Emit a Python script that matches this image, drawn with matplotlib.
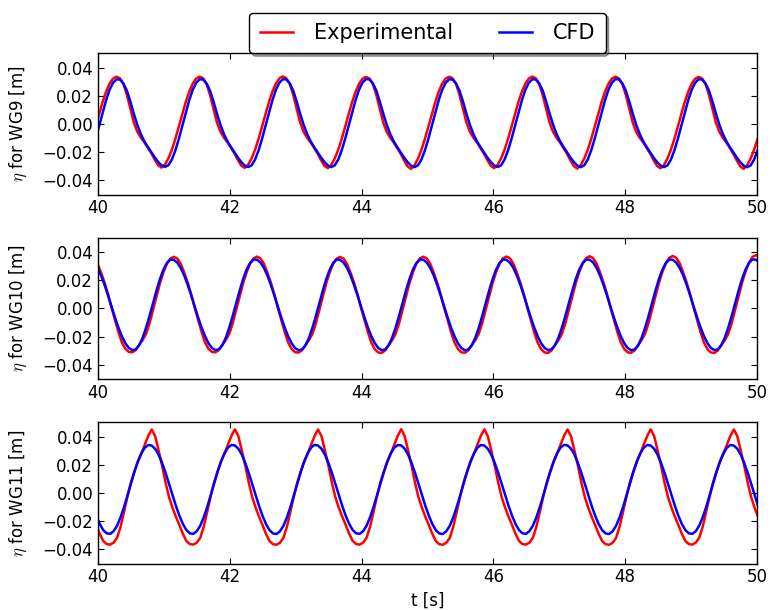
import numpy as np
import matplotlib
matplotlib.use("Agg")
import matplotlib.pyplot as plt

# digitised wave-gauge traces, one sample every dt seconds from t_start
# (one text line = one wave, starting at the red crest)
dt = 0.0525833
t9_start = 39.9645
t10_start = 39.9932
t11_start = 39.9737

# WG9
eta9_exp = [
    -0.0019, 0.0070, 0.0156, 0.0229, 0.0286, 0.0322,
    0.0335, 0.0324, 0.0284, 0.0207, 0.0110, 0.0012, -0.0054, -0.0096, -0.0128, -0.0166, -0.0205, -0.0251, -0.0292, -0.0309, -0.0288, -0.0243, -0.0182, -0.0105, -0.0019, 0.0070, 0.0156, 0.0229, 0.0286, 0.0322,
    0.0336, 0.0325, 0.0284, 0.0206, 0.0108, 0.0010, -0.0055, -0.0097, -0.0129, -0.0167, -0.0207, -0.0253, -0.0294, -0.0311, -0.0289, -0.0244, -0.0183, -0.0106, -0.0020, 0.0069, 0.0155, 0.0229, 0.0286, 0.0323,
    0.0337, 0.0325, 0.0285, 0.0207, 0.0109, 0.0011, -0.0055, -0.0097, -0.0130, -0.0168, -0.0208, -0.0255, -0.0296, -0.0313, -0.0290, -0.0244, -0.0183, -0.0106, -0.0020, 0.0069, 0.0155, 0.0228, 0.0285, 0.0321,
    0.0334, 0.0323, 0.0283, 0.0205, 0.0107, 0.0009, -0.0056, -0.0098, -0.0131, -0.0170, -0.0211, -0.0258, -0.0300, -0.0318, -0.0293, -0.0246, -0.0184, -0.0107, -0.0021, 0.0068, 0.0155, 0.0229, 0.0286, 0.0322,
    0.0335, 0.0324, 0.0284, 0.0206, 0.0109, 0.0011, -0.0055, -0.0097, -0.0129, -0.0168, -0.0208, -0.0254, -0.0296, -0.0313, -0.0290, -0.0244, -0.0183, -0.0106, -0.0020, 0.0069, 0.0156, 0.0229, 0.0286, 0.0322,
    0.0336, 0.0324, 0.0283, 0.0205, 0.0107, 0.0009, -0.0056, -0.0098, -0.0131, -0.0170, -0.0210, -0.0257, -0.0299, -0.0316, -0.0292, -0.0245, -0.0184, -0.0107, -0.0021, 0.0068, 0.0155, 0.0229, 0.0286, 0.0322,
    0.0335, 0.0324, 0.0283, 0.0205, 0.0108, 0.0010, -0.0056, -0.0098, -0.0130, -0.0169, -0.0209, -0.0256, -0.0297, -0.0314, -0.0291, -0.0245, -0.0183, -0.0106, -0.0020, 0.0069, 0.0155, 0.0229, 0.0285, 0.0321,
    0.0334, 0.0323, 0.0283, 0.0205, 0.0107, 0.0009, -0.0056, -0.0098, -0.0131, -0.0170, -0.0211, -0.0258, -0.0300, -0.0318, -0.0293, -0.0246, -0.0184, -0.0107,
]
eta9_cfd = [
    -0.0105, -0.0013, 0.0082, 0.0169, 0.0242, 0.0292,
    0.0316, 0.0315, 0.0287, 0.0237, 0.0160, 0.0074, -0.0005, -0.0070, -0.0121, -0.0161, -0.0198, -0.0235, -0.0268, -0.0293, -0.0304, -0.0292, -0.0251, -0.0187, -0.0105, -0.0013, 0.0082, 0.0169, 0.0242, 0.0292,
    0.0317, 0.0315, 0.0287, 0.0236, 0.0159, 0.0073, -0.0006, -0.0071, -0.0122, -0.0162, -0.0199, -0.0236, -0.0269, -0.0294, -0.0305, -0.0293, -0.0252, -0.0188, -0.0106, -0.0014, 0.0081, 0.0168, 0.0242, 0.0292,
    0.0317, 0.0316, 0.0288, 0.0237, 0.0160, 0.0074, -0.0005, -0.0070, -0.0121, -0.0162, -0.0199, -0.0236, -0.0269, -0.0294, -0.0305, -0.0293, -0.0252, -0.0187, -0.0105, -0.0013, 0.0082, 0.0169, 0.0243, 0.0293,
    0.0318, 0.0316, 0.0288, 0.0236, 0.0159, 0.0073, -0.0006, -0.0071, -0.0122, -0.0163, -0.0200, -0.0237, -0.0270, -0.0295, -0.0306, -0.0293, -0.0252, -0.0188, -0.0106, -0.0014, 0.0081, 0.0169, 0.0242, 0.0292,
    0.0317, 0.0315, 0.0287, 0.0236, 0.0159, 0.0073, -0.0006, -0.0071, -0.0122, -0.0162, -0.0199, -0.0236, -0.0269, -0.0294, -0.0305, -0.0293, -0.0252, -0.0188, -0.0106, -0.0014, 0.0081, 0.0168, 0.0242, 0.0292,
    0.0317, 0.0316, 0.0288, 0.0237, 0.0160, 0.0074, -0.0005, -0.0070, -0.0122, -0.0162, -0.0200, -0.0237, -0.0270, -0.0295, -0.0306, -0.0293, -0.0252, -0.0187, -0.0105, -0.0013, 0.0082, 0.0169, 0.0243, 0.0293,
    0.0318, 0.0316, 0.0288, 0.0236, 0.0159, 0.0073, -0.0006, -0.0071, -0.0122, -0.0163, -0.0200, -0.0237, -0.0270, -0.0295, -0.0306, -0.0294, -0.0253, -0.0188, -0.0106, -0.0014, 0.0081, 0.0169, 0.0242, 0.0292,
    0.0317, 0.0315, 0.0287, 0.0236, 0.0159, 0.0073, -0.0006, -0.0071, -0.0122, -0.0163, -0.0200, -0.0237, -0.0270, -0.0295, -0.0306, -0.0294, -0.0253, -0.0188,
]

# WG10
eta10_exp = [
    0.0316, 0.0255, 0.0185, 0.0103, 0.0008, -0.0080, -0.0165, -0.0240, -0.0285, -0.0308, -0.0311, -0.0295, -0.0258, -0.0225, -0.0180, -0.0105, -0.0010, 0.0088, 0.0178, 0.0255, 0.0316, 0.0353,
    0.0366, 0.0354, 0.0316, 0.0255, 0.0185, 0.0103, 0.0008, -0.0080, -0.0165, -0.0240, -0.0285, -0.0308, -0.0311, -0.0295, -0.0258, -0.0225, -0.0180, -0.0105, -0.0010, 0.0088, 0.0178, 0.0255, 0.0316, 0.0354,
    0.0368, 0.0355, 0.0317, 0.0255, 0.0184, 0.0102, 0.0007, -0.0081, -0.0166, -0.0241, -0.0287, -0.0310, -0.0313, -0.0296, -0.0259, -0.0226, -0.0180, -0.0105, -0.0010, 0.0088, 0.0178, 0.0256, 0.0317, 0.0353,
    0.0365, 0.0353, 0.0315, 0.0254, 0.0184, 0.0102, 0.0007, -0.0081, -0.0167, -0.0242, -0.0288, -0.0312, -0.0315, -0.0298, -0.0260, -0.0226, -0.0181, -0.0106, -0.0011, 0.0087, 0.0178, 0.0255, 0.0317, 0.0354,
    0.0367, 0.0355, 0.0316, 0.0255, 0.0185, 0.0103, 0.0008, -0.0080, -0.0166, -0.0241, -0.0287, -0.0311, -0.0314, -0.0297, -0.0259, -0.0225, -0.0180, -0.0105, -0.0010, 0.0088, 0.0179, 0.0256, 0.0317, 0.0355,
    0.0368, 0.0356, 0.0317, 0.0255, 0.0184, 0.0102, 0.0007, -0.0081, -0.0167, -0.0242, -0.0288, -0.0312, -0.0315, -0.0298, -0.0260, -0.0226, -0.0181, -0.0106, -0.0010, 0.0088, 0.0179, 0.0257, 0.0318, 0.0357,
    0.0370, 0.0357, 0.0318, 0.0256, 0.0185, 0.0103, 0.0008, -0.0080, -0.0166, -0.0241, -0.0287, -0.0311, -0.0314, -0.0297, -0.0259, -0.0225, -0.0180, -0.0105, -0.0009, 0.0089, 0.0180, 0.0258, 0.0320, 0.0359,
    0.0372, 0.0359, 0.0319, 0.0256, 0.0185, 0.0102, 0.0007, -0.0081, -0.0167, -0.0242, -0.0288, -0.0312, -0.0315, -0.0298, -0.0260, -0.0226, -0.0181, -0.0105, -0.0009, 0.0090, 0.0182, 0.0261, 0.0324, 0.0365,
    0.0378, 0.0366,
]
eta10_cfd = [
    0.0287, 0.0234, 0.0168, 0.0094, 0.0016, -0.0062, -0.0134, -0.0196, -0.0246, -0.0280, -0.0295, -0.0290, -0.0261, -0.0208, -0.0137, -0.0053, 0.0037, 0.0126, 0.0208, 0.0275, 0.0322, 0.0346,
    0.0345, 0.0325, 0.0287, 0.0234, 0.0168, 0.0094, 0.0016, -0.0062, -0.0134, -0.0196, -0.0246, -0.0280, -0.0295, -0.0290, -0.0261, -0.0208, -0.0137, -0.0053, 0.0037, 0.0126, 0.0208, 0.0275, 0.0322, 0.0346,
    0.0346, 0.0326, 0.0288, 0.0234, 0.0167, 0.0093, 0.0015, -0.0063, -0.0135, -0.0197, -0.0247, -0.0281, -0.0296, -0.0291, -0.0262, -0.0209, -0.0138, -0.0054, 0.0036, 0.0126, 0.0208, 0.0275, 0.0322, 0.0347,
    0.0345, 0.0325, 0.0287, 0.0233, 0.0167, 0.0094, 0.0016, -0.0062, -0.0134, -0.0196, -0.0246, -0.0280, -0.0296, -0.0290, -0.0261, -0.0208, -0.0137, -0.0053, 0.0037, 0.0126, 0.0208, 0.0275, 0.0322, 0.0346,
    0.0346, 0.0326, 0.0288, 0.0234, 0.0167, 0.0093, 0.0015, -0.0063, -0.0135, -0.0197, -0.0247, -0.0281, -0.0296, -0.0291, -0.0262, -0.0209, -0.0138, -0.0054, 0.0036, 0.0126, 0.0208, 0.0275, 0.0322, 0.0347,
    0.0345, 0.0325, 0.0287, 0.0234, 0.0168, 0.0094, 0.0016, -0.0062, -0.0134, -0.0196, -0.0246, -0.0280, -0.0295, -0.0290, -0.0261, -0.0208, -0.0137, -0.0053, 0.0037, 0.0126, 0.0208, 0.0275, 0.0322, 0.0346,
    0.0346, 0.0326, 0.0288, 0.0234, 0.0167, 0.0093, 0.0015, -0.0063, -0.0135, -0.0197, -0.0247, -0.0281, -0.0296, -0.0291, -0.0262, -0.0209, -0.0138, -0.0054, 0.0036, 0.0126, 0.0208, 0.0275, 0.0322, 0.0347,
    0.0345, 0.0325, 0.0287, 0.0234, 0.0168, 0.0094, 0.0016, -0.0062, -0.0134, -0.0196, -0.0246, -0.0280, -0.0295, -0.0290, -0.0261, -0.0208, -0.0137, -0.0053, 0.0037, 0.0127, 0.0209, 0.0276, 0.0323, 0.0347,
    0.0346, 0.0326,
]

# WG11
eta11_exp = [
    -0.0228, -0.0290, -0.0340, -0.0362, -0.0366, -0.0352, -0.0318, -0.0240, -0.0135, -0.0025, 0.0075, 0.0153, 0.0222, 0.0280, 0.0343, 0.0405,
    0.0450, 0.0402, 0.0300, 0.0193, 0.0073, -0.0030, -0.0105, -0.0170, -0.0228, -0.0290, -0.0340, -0.0362, -0.0366, -0.0352, -0.0318, -0.0240, -0.0135, -0.0025, 0.0075, 0.0153, 0.0222, 0.0280, 0.0343, 0.0405,
    0.0451, 0.0403, 0.0301, 0.0194, 0.0074, -0.0029, -0.0104, -0.0170, -0.0229, -0.0291, -0.0341, -0.0363, -0.0367, -0.0353, -0.0319, -0.0241, -0.0136, -0.0026, 0.0074, 0.0152, 0.0221, 0.0279, 0.0342, 0.0404,
    0.0450, 0.0402, 0.0300, 0.0193, 0.0073, -0.0030, -0.0105, -0.0170, -0.0228, -0.0290, -0.0340, -0.0362, -0.0366, -0.0352, -0.0318, -0.0240, -0.0135, -0.0025, 0.0075, 0.0153, 0.0222, 0.0280, 0.0343, 0.0405,
    0.0452, 0.0403, 0.0300, 0.0192, 0.0072, -0.0031, -0.0106, -0.0171, -0.0229, -0.0291, -0.0341, -0.0363, -0.0367, -0.0353, -0.0319, -0.0241, -0.0136, -0.0026, 0.0074, 0.0153, 0.0222, 0.0280, 0.0344, 0.0406,
    0.0451, 0.0402, 0.0299, 0.0192, 0.0072, -0.0031, -0.0105, -0.0170, -0.0228, -0.0290, -0.0340, -0.0362, -0.0366, -0.0352, -0.0318, -0.0240, -0.0135, -0.0025, 0.0075, 0.0153, 0.0222, 0.0281, 0.0344, 0.0406,
    0.0450, 0.0402, 0.0300, 0.0193, 0.0073, -0.0030, -0.0106, -0.0171, -0.0229, -0.0291, -0.0341, -0.0363, -0.0367, -0.0353, -0.0319, -0.0241, -0.0136, -0.0025, 0.0075, 0.0153, 0.0222, 0.0280, 0.0343, 0.0405,
    0.0451, 0.0403, 0.0300, 0.0193, 0.0073, -0.0030, -0.0105, -0.0170, -0.0228, -0.0290, -0.0340, -0.0362, -0.0366, -0.0352, -0.0318, -0.0240, -0.0135, -0.0025, 0.0075, 0.0153, 0.0222, 0.0280, 0.0343, 0.0405,
    0.0450, 0.0402, 0.0300, 0.0193, 0.0073, -0.0030, -0.0105, -0.0170,
]
eta11_cfd = [
    -0.0162, -0.0220, -0.0263, -0.0286, -0.0290, -0.0271, -0.0232, -0.0173, -0.0100, -0.0018, 0.0067, 0.0149, 0.0223, 0.0281, 0.0321, 0.0340,
    0.0336, 0.0313, 0.0271, 0.0212, 0.0143, 0.0065, -0.0015, -0.0093, -0.0162, -0.0220, -0.0263, -0.0286, -0.0290, -0.0271, -0.0232, -0.0173, -0.0100, -0.0018, 0.0067, 0.0149, 0.0223, 0.0281, 0.0321, 0.0340,
    0.0337, 0.0314, 0.0272, 0.0212, 0.0142, 0.0064, -0.0016, -0.0094, -0.0163, -0.0221, -0.0264, -0.0287, -0.0291, -0.0272, -0.0233, -0.0174, -0.0101, -0.0019, 0.0066, 0.0149, 0.0223, 0.0281, 0.0322, 0.0341,
    0.0336, 0.0313, 0.0271, 0.0212, 0.0143, 0.0065, -0.0015, -0.0093, -0.0162, -0.0220, -0.0263, -0.0286, -0.0290, -0.0271, -0.0232, -0.0173, -0.0100, -0.0018, 0.0067, 0.0149, 0.0223, 0.0281, 0.0321, 0.0340,
    0.0337, 0.0314, 0.0272, 0.0212, 0.0142, 0.0064, -0.0016, -0.0094, -0.0163, -0.0221, -0.0264, -0.0287, -0.0291, -0.0272, -0.0233, -0.0174, -0.0101, -0.0019, 0.0066, 0.0148, 0.0222, 0.0280, 0.0321, 0.0340,
    0.0336, 0.0313, 0.0271, 0.0212, 0.0143, 0.0065, -0.0015, -0.0093, -0.0162, -0.0220, -0.0263, -0.0286, -0.0290, -0.0271, -0.0232, -0.0173, -0.0100, -0.0018, 0.0067, 0.0149, 0.0223, 0.0281, 0.0322, 0.0341,
    0.0337, 0.0314, 0.0272, 0.0212, 0.0142, 0.0064, -0.0016, -0.0094, -0.0163, -0.0221, -0.0264, -0.0287, -0.0291, -0.0272, -0.0233, -0.0174, -0.0101, -0.0019, 0.0066, 0.0149, 0.0223, 0.0281, 0.0321, 0.0340,
    0.0336, 0.0313, 0.0271, 0.0212, 0.0143, 0.0065, -0.0015, -0.0093, -0.0162, -0.0220, -0.0263, -0.0286, -0.0290, -0.0271, -0.0232, -0.0173, -0.0100, -0.0018, 0.0067, 0.0149, 0.0223, 0.0281, 0.0321, 0.0340,
    0.0336, 0.0313, 0.0271, 0.0212, 0.0143, 0.0065, -0.0015, -0.0093,
]

gauges = ["WG9", "WG10", "WG11"]
yticks = [-0.04, -0.02, 0.00, 0.02, 0.04]
xticks = [40, 42, 44, 46, 48, 50]

plt.rcParams.update({
    "font.size": 12,
    "mathtext.fontset": "cm",
    "xtick.direction": "in",
    "ytick.direction": "in",
    "xtick.top": True,
    "ytick.right": True,
    "xtick.major.size": 4,
    "ytick.major.size": 4,
    "axes.linewidth": 1.0,
})

series = [
    (t9_start, eta9_exp, eta9_cfd),
    (t10_start, eta10_exp, eta10_cfd),
    (t11_start, eta11_exp, eta11_cfd),
]

fig = plt.figure(figsize=(7.7, 6.1), dpi=100)
bottoms = [0.6811, 0.3787, 0.0762]
axes = []
for i, (t0, exp, cfd) in enumerate(series):
    ax = fig.add_axes([0.1273, bottoms[i], 0.8558, 0.2313])
    t = t0 + dt * np.arange(len(exp))
    ax.plot(t, exp, color="#ff0000", lw=1.8, label="Experimental",
            solid_joinstyle="round")
    ax.plot(t, cfd, color="#0000ff", lw=1.8, label="CFD",
            solid_joinstyle="round")
    ax.set_xlim(40, 50)
    ax.set_ylim(-0.05, 0.05)
    ax.set_xticks(xticks)
    ax.set_yticks(yticks)
    ax.set_ylabel(r"$\eta$ for " + gauges[i] + " [m]")
    ax.yaxis.set_label_coords(-0.105, 0.5)
    axes.append(ax)

axes[-1].set_xlabel("t [s]")

axes[0].legend(loc="lower center", bbox_to_anchor=(0.5, 1.0), ncol=2,
               fontsize=15, shadow=True, fancybox=True, handlelength=1.6,
               handletextpad=1.0, columnspacing=2.2, borderpad=0.5,
               borderaxespad=0.0, edgecolor="black", framealpha=1.0)

fig.savefig("out.png", dpi=100, facecolor="white")
